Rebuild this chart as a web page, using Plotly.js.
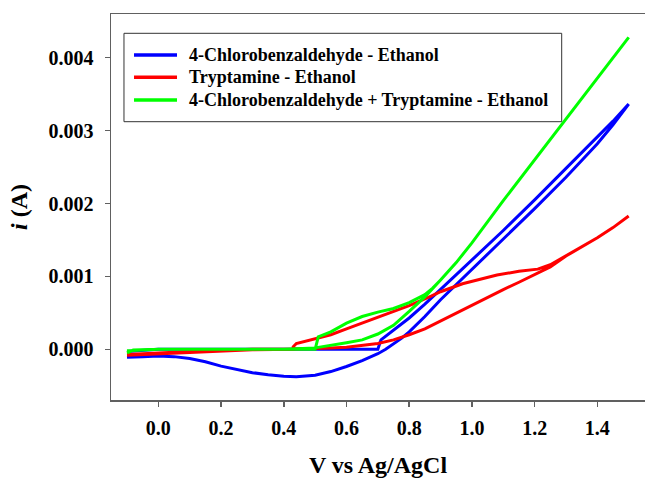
<!DOCTYPE html>
<html>
<head>
<meta charset="utf-8">
<script src="https://cdn.plot.ly/plotly-3.0.1.min.js"></script>
<style>html,body{margin:0;padding:0;background:#fff;}#chart{width:645px;height:480px;}</style>
</head>
<body>
<div id="chart"></div>
<script>
// Series names
const seriesNames = [
  "4-Chlorobenzaldehyde - Ethanol",
  "Tryptamine - Ethanol",
  "4-Chlorobenzaldehyde + Tryptamine - Ethanol"
];

// Blue: 4-Chlorobenzaldehyde - Ethanol (V, current in A), in scan order
const blueV = [-0.10, -0.05, 0.00, 0.10, 0.20, 0.30, 0.40, 0.50, 0.60, 0.70, 0.71, 0.75, 0.80, 0.85, 0.90, 0.95, 1.00, 1.10, 1.20, 1.30, 1.40, 1.45, 1.50,
  1.45, 1.40, 1.30, 1.20, 1.10, 1.00, 0.95, 0.90, 0.85, 0.80, 0.775, 0.75, 0.725, 0.70, 0.65, 0.60, 0.55, 0.50, 0.44, 0.40, 0.35, 0.30, 0.25, 0.20, 0.15, 0.10, 0.05, 0.00, -0.05, -0.10];
const blueI = [-0.00003, -0.00001, 0.0, 0.0, 0.0, 0.0, 0.0, 0.0, 0.0, 0.0, 0.00013, 0.00026, 0.00043, 0.00062, 0.00082, 0.00102, 0.00122, 0.00163, 0.00205, 0.00248, 0.00292, 0.00313, 0.003365,
  0.00308, 0.00282, 0.00236, 0.00193, 0.00151, 0.00110, 0.00089, 0.00068, 0.00045, 0.00024, 0.00015, 0.00007, 0.0, -0.00006, -0.000155, -0.000235, -0.000305, -0.000355, -0.000375, -0.000368, -0.00035, -0.00032, -0.00028, -0.00023, -0.00017, -0.000125, -0.0001, -0.00009, -0.0001, -0.00011];

// Red: Tryptamine - Ethanol
const redV = [-0.10, 0.00, 0.10, 0.20, 0.30, 0.43, 0.43, 0.44, 0.50, 0.55, 0.60, 0.65, 0.70, 0.76, 0.80, 0.87, 0.90, 0.97, 1.00, 1.08, 1.15, 1.21, 1.25, 1.30, 1.35, 1.40, 1.45, 1.50,
  1.45, 1.40, 1.35, 1.30, 1.25, 1.20, 1.15, 1.10, 1.05, 1.00, 0.95, 0.90, 0.85, 0.80, 0.75, 0.70, 0.65, 0.60, 0.55, 0.50, 0.40, 0.30, 0.20, 0.10, 0.00, -0.10];
const redI = [-0.00008, -0.00006, -0.00004, -0.00002, -0.000005, 0.0, 0.000035, 0.00008, 0.00015, 0.0002, 0.00028, 0.00036, 0.00043, 0.00053, 0.0006, 0.00073, 0.00079, 0.0009, 0.00093, 0.00102, 0.00107, 0.0011, 0.00116, 0.00128, 0.0014, 0.00153, 0.00167, 0.00183,
  0.00167, 0.00153, 0.0014, 0.00128, 0.00113, 0.00102, 0.00092, 0.00082, 0.00071, 0.0006, 0.00049, 0.00038, 0.00028, 0.0002, 0.00013, 0.00008, 0.00005, 0.00003, 0.00002, 0.00001, 0.0, 0.0, -0.00001, -0.00003, -0.00005, -0.00007];

// Green: 4-Chlorobenzaldehyde + Tryptamine - Ethanol
const greenV = [-0.10, -0.08, 0.00, 0.10, 0.20, 0.30, 0.40, 0.50, 0.51, 0.55, 0.60, 0.65, 0.70, 0.75, 0.80, 0.85, 0.875, 0.90, 0.95, 1.00, 1.10, 1.20, 1.30, 1.40, 1.50,
  1.40, 1.30, 1.20, 1.10, 1.00, 0.95, 0.90, 0.875, 0.85, 0.80, 0.75, 0.70, 0.65, 0.60, 0.55, 0.50, 0.40, 0.30, 0.20, 0.10, 0.00, -0.10];
const greenI = [-0.00005, -0.00001, 0.0, 0.0, 0.0, 0.0, 0.0, 0.0, 0.00017, 0.00024, 0.00036, 0.00045, 0.00051, 0.00056, 0.00064, 0.00075, 0.00084, 0.00095, 0.00119, 0.00146, 0.00204, 0.0026, 0.00316, 0.00372, 0.00428,
  0.00372, 0.00316, 0.0026, 0.00204, 0.00146, 0.00119, 0.00095, 0.00084, 0.00072, 0.00052, 0.00033, 0.00021, 0.00013, 0.00009, 0.00006, 0.00002, 0.0, 0.0, 0.0, 0.0, 0.0, -0.00002];

// Axis ticks
const xTickVals = [0.0, 0.2, 0.4, 0.6, 0.8, 1.0, 1.2, 1.4];
const xTickText = ["0.0", "0.2", "0.4", "0.6", "0.8", "1.0", "1.2", "1.4"];
const yTickVals = [0.000, 0.001, 0.002, 0.003, 0.004];
const yTickText = ["0.000", "0.001", "0.002", "0.003", "0.004"];

const colors = ["#0000ff", "#ff0000", "#00ff00"];
const FAM = "Liberation Serif";

const traces = [
  {x: blueV, y: blueI, name: seriesNames[0], mode: "lines", line: {color: colors[0], width: 3}},
  {x: redV, y: redI, name: seriesNames[1], mode: "lines", line: {color: colors[1], width: 3}},
  {x: greenV, y: greenI, name: seriesNames[2], mode: "lines", line: {color: colors[2], width: 3}}
];

// Hand-built legend box (paper coordinates of the plot area)
const legRowsY = [0.8938, 0.836, 0.7772];
const shapes = [
  {type: "rect", xref: "paper", yref: "paper", x0: 0.0243, x1: 0.844, y0: 0.721, y1: 0.950,
   line: {color: "#333333", width: 1}, fillcolor: "#ffffff", layer: "below"}
];
const annotations = [];
seriesNames.forEach((nm, k) => {
  shapes.push({type: "line", xref: "paper", yref: "paper", x0: 0.0431, x1: 0.1236, y0: legRowsY[k], y1: legRowsY[k],
    line: {color: colors[k], width: 3.5}});
  annotations.push({xref: "paper", yref: "paper", x: 0.1423, y: legRowsY[k], xanchor: "left", yanchor: "middle",
    showarrow: false, text: "<b>" + nm + "</b>", font: {family: FAM, size: 18, color: "#000000"}});
});

const axisColor = "#606060";
const layout = {
  width: 645, height: 480,
  margin: {l: 111, r: 0, t: 14, b: 80},
  paper_bgcolor: "#ffffff", plot_bgcolor: "#ffffff",
  font: {family: FAM, color: "#000000", size: 18},
  showlegend: false,
  shapes: shapes,
  annotations: annotations,
  xaxis: {
    range: [-0.151, 1.552],
    tickvals: xTickVals, ticktext: xTickText.map(t => "<b>" + t + "</b>"),
    showgrid: false, zeroline: false,
    showline: true, linecolor: axisColor, linewidth: 1.5, mirror: true,
    ticks: "outside", ticklen: 5, tickcolor: axisColor, tickwidth: 1.5,
    tickfont: {family: FAM, size: 20, color: "#000000"},
    ticklabelstandoff: 4,
    title: {text: "<b>V vs Ag/AgCl</b>", font: {family: FAM, size: 24, color: "#000000"}, standoff: 18}
  },
  yaxis: {
    range: [-0.000695, 0.0046],
    tickvals: yTickVals, ticktext: yTickText.map(t => "<b>" + t + "</b>"),
    showgrid: false, zeroline: false,
    showline: true, linecolor: axisColor, linewidth: 1.5, mirror: false,
    ticks: "outside", ticklen: 5, tickcolor: axisColor, tickwidth: 1.5,
    tickfont: {family: FAM, size: 20, color: "#000000"},
    ticklabelstandoff: 7,
    title: {text: "<b><i>i</i> (A)</b>", font: {family: FAM, size: 24, color: "#000000"}, standoff: 14}
  }
};

Plotly.newPlot("chart", traces, layout, {displayModeBar: false, staticPlot: true});
</script>
</body>
</html>
